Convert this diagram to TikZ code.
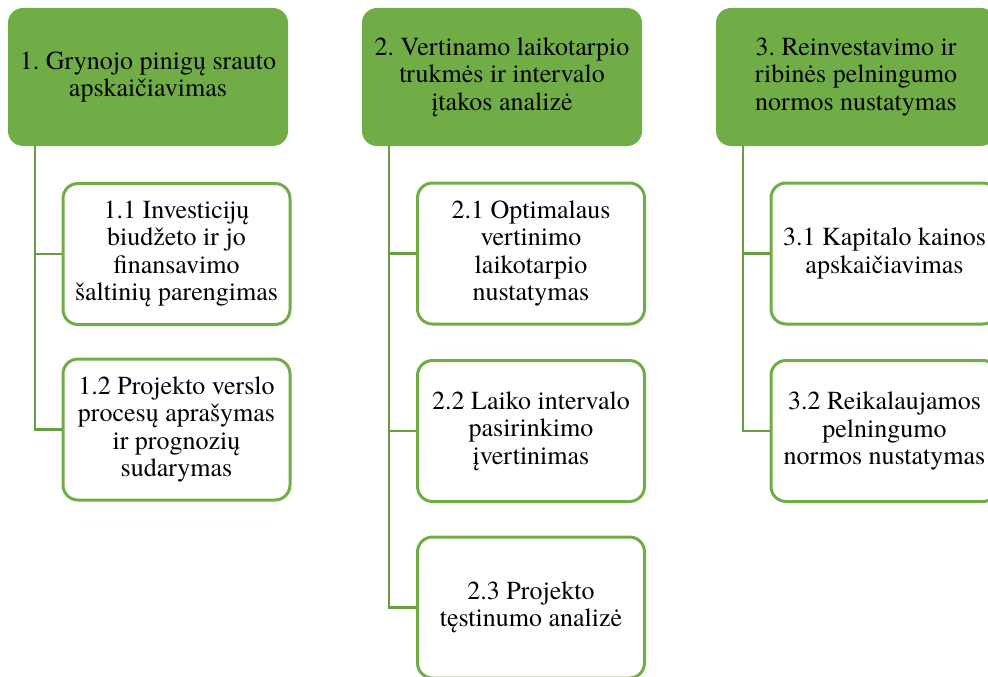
\documentclass[tikz,border=0pt]{standalone}
\usepackage{fontspec}
\setmainfont{texgyretermes}[Extension=.otf, UprightFont=*-regular, BoldFont=*-bold]
\definecolor{smgreen}{HTML}{70AD47}
\definecolor{lnkgreen}{HTML}{6A9C45}
\frenchspacing
\begin{document}
\begin{tikzpicture}[x=1pt,y=-1pt,
  topbox/.style={fill=smgreen, draw=none, rounded corners=15pt, minimum width=280pt, minimum height=138pt, inner sep=0pt, align=center, font=\fontsize{26}{27.5}\selectfont},
  childbox/.style={fill=white, draw=smgreen, line width=3pt, rounded corners=15pt, minimum width=227pt, minimum height=141pt, inner sep=0pt, align=center, font=\fontsize{26}{27.5}\selectfont},
  link/.style={draw=lnkgreen, line width=2.5pt}]
\useasboundingbox (0,0) rectangle (988,677);
\clip (0,0) rectangle (988,677);
% top boxes
\node[topbox] (g1) at (148,77) {1. Grynojo pinigų srauto\\apskaičiavimas};
\node[topbox] (g2) at (502,77) {2. Vertinamo laikotarpio\\trukmės ir intervalo\\įtakos analizė};
\node[topbox] (g3) at (856,77) {3. Reinvestavimo ir\\ribinės pelningumo\\normos nustatymas};
% children
\node[childbox] (c11) at (176.5,254) {1.1 Investicijų\\biudžeto ir jo\\finansavimo\\šaltinių parengimas};
\node[childbox] (c12) at (176.5,429.5) {1.2 Projekto verslo\\procesų aprašymas\\ir prognozių\\sudarymas};
\node[childbox] (c21) at (531,253.5) {2.1 Optimalaus\\vertinimo\\laikotarpio\\nustatymas};
\node[childbox] (c22) at (531,431) {2.2 Laiko intervalo\\pasirinkimo\\įvertinimas};
\node[childbox] (c23) at (531,607.5) {2.3 Projekto\\tęstinumo analizė};
\node[childbox] (c31) at (884.5,253.5) {3.1 Kapitalo kainos\\apskaičiavimas};
\node[childbox] (c32) at (884.5,431) {3.2 Reikalaujamos\\pelningumo\\normos nustatymas};
% connector origins
\coordinate (v1) at (35,146);
\coordinate (v2) at (389,146);
\coordinate (v3) at (743,146);
\draw[link] (v1) |- (c11.west);
\draw[link] (v1) |- (c12.west);
\draw[link] (v2) |- (c21.west);
\draw[link] (v2) |- (c22.west);
\draw[link] (v2) |- (c23.west);
\draw[link] (v3) |- (c31.west);
\draw[link] (v3) |- (c32.west);
\end{tikzpicture}
\end{document}
